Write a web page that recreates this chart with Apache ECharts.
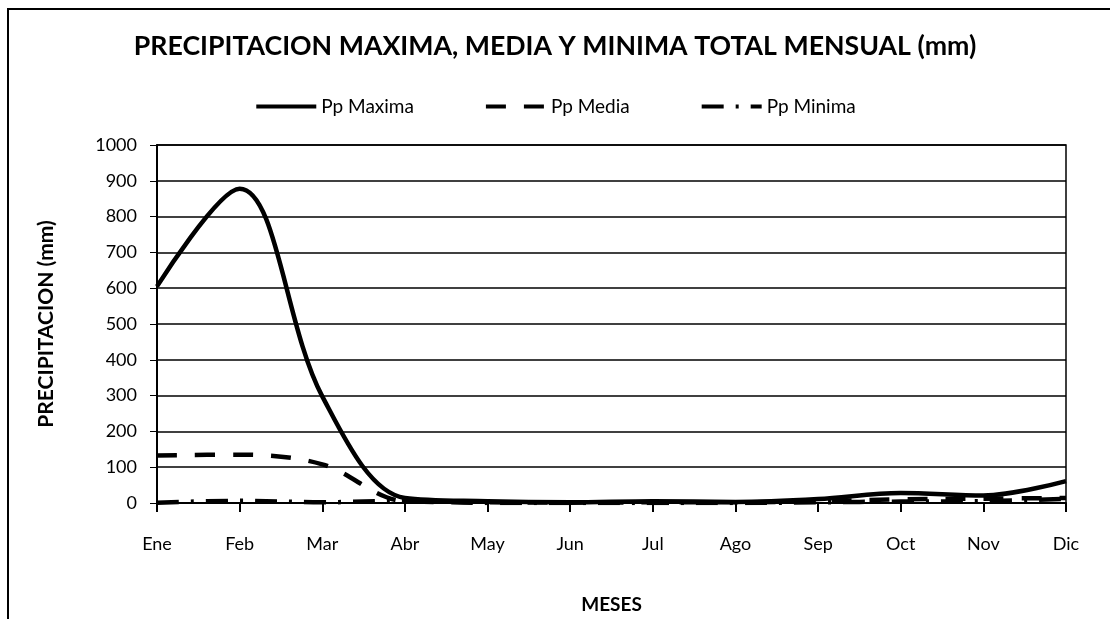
<!DOCTYPE html>
<html>
<head>
<meta charset="utf-8">
<script src="https://cdn.jsdelivr.net/npm/echarts@6/dist/echarts.min.js"></script>
<style>
html,body{margin:0;padding:0;background:#fff;}
#chart{width:1110px;height:619px;}
</style>
</head>
<body>
<div id="chart"></div>
<script>
var months = ['Ene','Feb','Mar','Abr','May','Jun','Jul','Ago','Sep','Oct','Nov','Dic'];
var yTicks = [0,100,200,300,400,500,600,700,800,900,1000];
var ppMaxima = [605, 878, 298, 14, 5, 2, 5, 3, 11, 28, 21, 61];
var ppMedia  = [133, 135, 108, 5, 2, 1, 2, 2, 5, 10, 12, 14];
var ppMinima = [1, 6, 2, 6, 0, 0, 0, 0, 2, 4, 5, 12];

var FONT = 'Lato';
var chart = echarts.init(document.getElementById('chart'), null, {renderer:'canvas'});
chart.setOption({
  backgroundColor:'#fff',
  animation:false,
  textStyle:{fontFamily:FONT,color:'#000'},
  title:{
    text:'PRECIPITACION MAXIMA, MEDIA Y MINIMA TOTAL MENSUAL (mm)',
    left:'center', top:28,
    textStyle:{fontFamily:FONT,fontSize:26.7,fontWeight:'bold',color:'#000'}
  },
  graphic:[
    {type:'polyline',shape:{points:[[8,619],[8,9],[1110,9]]},style:{stroke:'#000',lineWidth:2,fill:null}}
  ],
  legend:{
    top:92, left:'center',
    itemWidth:60, itemHeight:14, itemGap:70,
    textStyle:{fontFamily:FONT,fontSize:19,color:'#000'},
    itemStyle:{color:'rgba(0,0,0,0)',borderColor:'rgba(0,0,0,0)',borderWidth:0,opacity:0},
    lineStyle:{width:4},
    data:['Pp Maxima','Pp Media','Pp Minima']
  },
  grid:{left:157,right:44,top:145,bottom:112,containLabel:false,show:true,borderColor:'#000',borderWidth:1.5,backgroundColor:'transparent'},
  xAxis:{
    type:'category', data:months, boundaryGap:false,
    name:'MESES', nameLocation:'middle', nameGap:92,
    nameTextStyle:{fontFamily:FONT,fontSize:19,fontWeight:'bold',color:'#000'},
    axisLine:{lineStyle:{color:'#000',width:2}},
    axisTick:{show:true,length:9,lineStyle:{color:'#000',width:2}},
    axisLabel:{fontFamily:FONT,fontSize:18,color:'#000',margin:32},
    splitLine:{show:false}
  },
  yAxis:{
    type:'value', min:0, max:1000, interval:100,
    name:'PRECIPITACION (mm)', nameLocation:'middle', nameGap:100,
    nameTextStyle:{fontFamily:FONT,fontSize:21,fontWeight:'bold',color:'#000'},
    axisLine:{show:true,lineStyle:{color:'#000',width:2}},
    axisTick:{show:true,length:7,lineStyle:{color:'#000',width:1}},
    axisLabel:{fontFamily:FONT,fontSize:18,color:'#000',margin:20,
      formatter:function(v){return yTicks.indexOf(v)>=0?String(v):'';}},
    splitLine:{show:true,lineStyle:{color:'#000',width:1.5}}
  },
  series:[
    {name:'Pp Maxima',type:'line',data:ppMaxima,smooth:0.35,showSymbol:false,symbol:'none',
      lineStyle:{color:'#000',width:4.5,type:'solid'},itemStyle:{color:'#000'}},
    {name:'Pp Media',type:'line',data:ppMedia,smooth:0.35,showSymbol:false,symbol:'none',
      lineStyle:{color:'#000',width:4.5,type:[20,18]},itemStyle:{color:'#000'}},
    {name:'Pp Minima',type:'line',data:ppMinima,smooth:0.35,showSymbol:false,symbol:'none',
      lineStyle:{color:'#000',width:4.5,type:[22,12,3,12]},itemStyle:{color:'#000'}}
  ]
});
</script>
</body>
</html>
